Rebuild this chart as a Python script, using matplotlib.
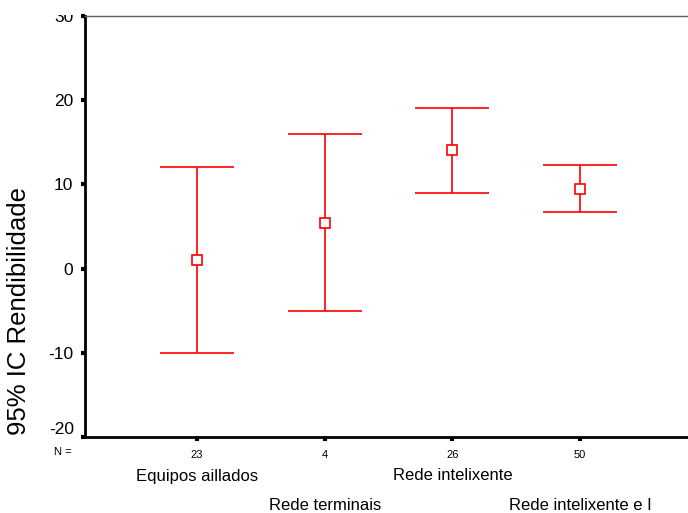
import matplotlib

matplotlib.use("Agg")
import matplotlib.pyplot as plt
import numpy as np
from matplotlib.transforms import Bbox, TransformedBbox

# data
categories = ["Equipos aillados", "Rede terminais", "Rede intelixente", "Rede intelixente e I"]
counts = [23, 4, 26, 50]
means = [1.0, 5.4, 14.1, 9.5]
lower = [-10.0, -5.0, 9.0, 6.7]
upper = [12.1, 16.0, 19.1, 12.3]
yticks = [-20, -10, 0, 10, 20, 30]

RED = "#ff0000"
W, H = 688, 513
LEFT, TOP, BOTTOM = 85, 16, 437
STEP = 127.7  # pixels between categories

plt.rcParams["font.family"] = ["Liberation Sans", "DejaVu Sans"]

fig = plt.figure(figsize=(W / 100, H / 100), dpi=100)
ax_w = W + 8 - LEFT
ax = fig.add_axes([LEFT / W, 1 - BOTTOM / H, ax_w / W, (BOTTOM - TOP) / H])

x = np.arange(1, len(categories) + 1)
m = np.array(means)
yerr = np.vstack([m - np.array(lower), np.array(upper) - m])
ax.errorbar(x, m, yerr=yerr, fmt="none", ecolor=RED, elinewidth=1.2,
            capsize=37 * 0.72, capthick=1.2)
ax.plot(x, m, linestyle="none", marker="s", markersize=7, markerfacecolor="white",
        markeredgecolor=RED, markeredgewidth=1.2)

x0 = 1 - (197 - LEFT) / STEP
ax.set_xlim(x0, x0 + ax_w / STEP)
ax.set_ylim(-20, 30)
ax.set_yticks(yticks)
ax.set_yticklabels(["" if t == -20 else str(t) for t in yticks], fontsize=12.5)
ax.set_xticks(x)
ax.set_xticklabels([str(c) for c in counts], fontsize=8)
ax.tick_params(axis="y", direction="out", length=3, width=3, pad=5.5, color="black")
ax.tick_params(axis="x", direction="out", length=3, width=3, pad=6, color="black")

# the top tick label is cut off in the original
top_lbl = ax.get_yticklabels()[-1]
top_lbl.set_clip_box(TransformedBbox(Bbox([[0, 0], [1, 1 - 15 / H]]), fig.transFigure))
top_lbl.set_clip_on(True)

for side in ["left", "bottom"]:
    ax.spines[side].set_linewidth(2)
    ax.spines[side].set_color("black")
ax.spines["top"].set_linewidth(1)
ax.spines["top"].set_color("#606060")
ax.spines["right"].set_visible(False)

# -20 label sits a little above its tick
ax.annotate("-20", xy=(0, -20), xycoords=("axes fraction", "data"),
            xytext=(-11, 8), textcoords="offset pixels", ha="right", va="center",
            fontsize=12.5, annotation_clip=False)

fig.text(19 / W, 1 - 311 / H, "95% IC Rendibilidade", rotation=90,
         ha="center", va="center", fontsize=18.5)

trans = ax.get_xaxis_transform()
ax.annotate("N =", xy=(0, 0), xycoords="axes fraction",
            xytext=(-22, -15), textcoords="offset pixels", ha="center", va="center",
            fontsize=8)
for i, (xi, name) in enumerate(zip(x, categories)):
    off = -39 if i % 2 == 0 else -69
    ax.annotate(name, xy=(xi, 0), xycoords=trans, xytext=(0, off),
                textcoords="offset pixels", ha="center", va="center", fontsize=12,
                annotation_clip=False)

fig.savefig("out.png", dpi=100)
